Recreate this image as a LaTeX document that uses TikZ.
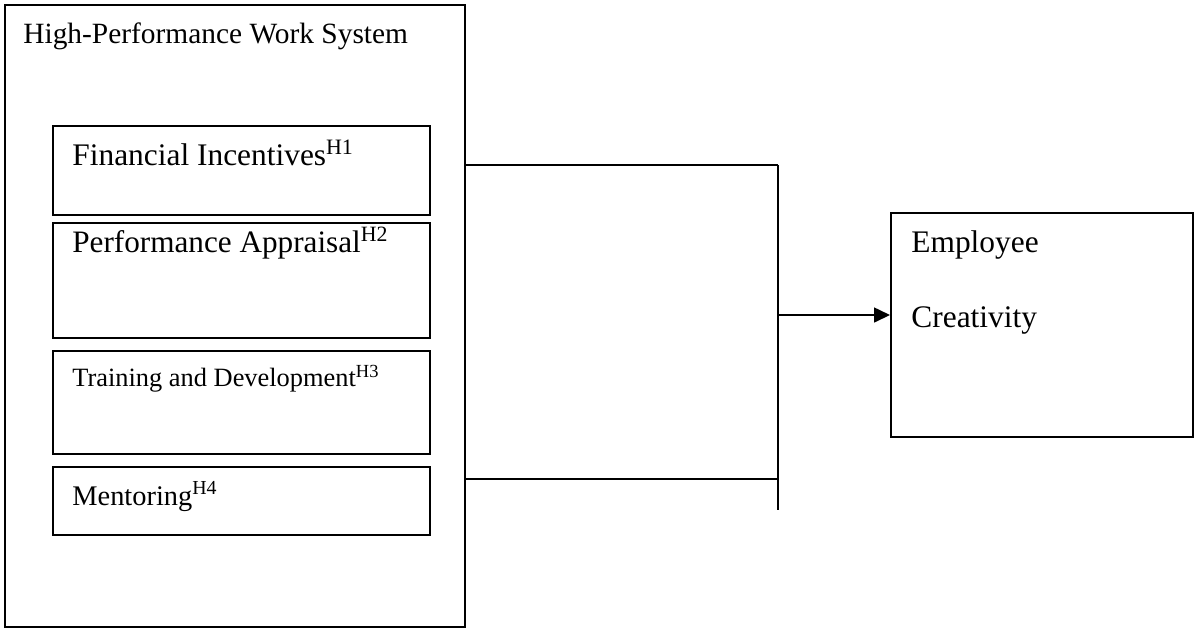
\documentclass[tikz,border=0pt]{standalone}
\usepackage{fontspec}
\setmainfont{Liberation Serif}
\usetikzlibrary{arrows.meta}
\begin{document}
\begin{tikzpicture}[x=0.5pt,y=-0.5pt,
  box/.style={draw=black,line width=0.8pt,rectangle,inner sep=0pt,anchor=north west},
  txt/.style={anchor=base west,inner sep=0pt},
  conn/.style={draw=black,line width=0.8pt},
  arr/.style={conn,-{Triangle[length=8pt,width=7.5pt]}}]
\useasboundingbox (0,0) rectangle (1194,629);
% outer system box
\node[box,minimum width=230pt,minimum height=311pt] (hpws) at (4,4) {};
\node[txt,font=\fontsize{14.7}{17}\selectfont] (title) at (23,43) {High-Performance Work System};
% inner boxes
\node[box,minimum width=188.5pt,minimum height=44.5pt] (fi) at (52,125) {};
\node[box,minimum width=188.5pt,minimum height=57.5pt] (pa) at (52,222) {};
\node[box,minimum width=188.5pt,minimum height=51.5pt] (td) at (52,350) {};
\node[box,minimum width=188.5pt,minimum height=34pt] (me) at (52,466) {};
\node[txt,font=\fontsize{15.7}{18}\selectfont] (fit) at (72,165) {Financial Incentives\textsuperscript{H1}};
\node[txt,font=\fontsize{15.6}{18}\selectfont] (pat) at (72,252) {Performance Appraisal\textsuperscript{H2}};
\node[txt,font=\fontsize{13.2}{15}\selectfont] (tdt) at (72,386) {Training and Development\textsuperscript{H3}};
\node[txt,font=\fontsize{14.2}{17}\selectfont] (met) at (72,505) {Mentoring\textsuperscript{H4}};
% outcome box
\node[box,minimum width=151pt,minimum height=112pt] (ec) at (890,212) {};
\node[txt,font=\fontsize{15.7}{18}\selectfont] (ect1) at (911,252) {Employee};
\node[txt,font=\fontsize{15.7}{18}\selectfont] (ect2) at (911,327) {Creativity};
% connectors
\coordinate (jt) at (778,165);
\coordinate (jb) at (778,479);
\coordinate (jend) at (778,510);
\coordinate (jm) at (778,315);
\draw[conn] (hpws.east |- jt) -- (jt);
\draw[conn] (hpws.east |- jb) -- (jb);
\draw[conn,line width=1pt] (jt) -- (jend);
\draw[arr] (jm) -- (ec.west |- jm);
\end{tikzpicture}
\end{document}
